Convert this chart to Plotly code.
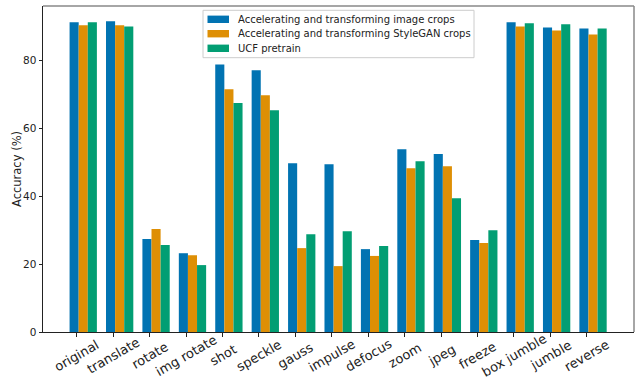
import plotly.graph_objects as go

categories = ["original", "translate", "rotate", "img rotate", "shot", "speckle", "gauss",
              "impulse", "defocus", "zoom", "jpeg", "freeze", "box jumble", "jumble", "reverse"]
image_crops = [91.2, 91.5, 27.4, 23.2, 78.8, 77.1, 49.7, 49.4, 24.4, 53.8, 52.4, 27.1, 91.2, 89.7, 89.4]
stylegan_crops = [90.3, 90.3, 30.3, 22.6, 71.5, 69.7, 24.7, 19.4, 22.4, 48.2, 48.8, 26.2, 90.0, 88.8, 87.6]
ucf_pretrain = [91.2, 90.0, 25.6, 19.7, 67.4, 65.3, 28.8, 29.7, 25.3, 50.3, 39.4, 30.0, 90.9, 90.6, 89.4]
series_names = ["Accelerating and transforming image crops",
                "Accelerating and transforming StyleGAN crops",
                "UCF pretrain"]
colors = ["#0173b2", "#de8f05", "#029e73"]
offsets = [-0.2, 0.05, 0.3]

W, H = 638, 379
L, R, T, B = 43, 4, 6, 47
PW, PH = W - L - R, H - T - B


def fx(px):
    return (px - L) / PW


def fy(py):
    return (H - B - py) / PH


idx = list(range(len(categories)))
fig = go.Figure()
for name, vals, col, off in zip(series_names, [image_crops, stylegan_crops, ucf_pretrain], colors, offsets):
    fig.add_trace(go.Bar(x=idx, y=vals, name=name, marker=dict(color=col, line=dict(width=0)),
                         width=0.25, offset=off, showlegend=False))

font = "DejaVu Sans"
for i, c in enumerate(categories):
    fig.add_annotation(x=i, y=0, xref="x", yref="paper", text=c, showarrow=False,
                       textangle=-30, yshift=-23, xanchor="center", yanchor="middle",
                       font=dict(family=font, size=13, color="#222"))

# y axis title
fig.add_annotation(x=fx(17), y=0.5, xref="paper", yref="paper", text="Accuracy (%)",
                   showarrow=False, textangle=-90, xanchor="center", yanchor="middle",
                   font=dict(family=font, size=11.5, color="#222"))

# legend drawn manually (matplotlib style)
fig.add_shape(type="rect", xref="paper", yref="paper", x0=fx(203), x1=fx(474), y0=fy(57.7), y1=fy(10.3),
              line=dict(color="#cccccc", width=1), fillcolor="rgba(255,255,255,0.8)", layer="above")
item_y = [19.3, 33.7, 48.3]
for name, col, yc in zip(series_names, colors, item_y):
    fig.add_shape(type="rect", xref="paper", yref="paper", x0=fx(207.5), x1=fx(229),
                  y0=fy(yc + 3.7), y1=fy(yc - 3.7), line=dict(width=0), fillcolor=col, layer="above")
    fig.add_annotation(x=fx(236), y=fy(yc), xref="paper", yref="paper", text=name, showarrow=False,
                       xanchor="left", yanchor="middle",
                       font=dict(family=font, size=10, color="#222"))

fig.update_layout(
    width=W, height=H, barmode="overlay",
    margin=dict(l=L, r=R, t=T, b=B),
    paper_bgcolor="white", plot_bgcolor="white",
    font=dict(family=font, size=10, color="#222"),
    showlegend=False,
    xaxis=dict(range=[-0.93, 15.3], tickvals=idx, ticktext=[""] * len(idx),
               ticks="outside", ticklen=3.5, tickcolor="#222", showgrid=False,
               zeroline=False, showline=True, linecolor="#222", linewidth=1),
    yaxis=dict(range=[0, 96], tickvals=[0, 20, 40, 60, 80], ticks="outside", ticklen=3.5,
               tickcolor="#222", showgrid=False, zeroline=False, showline=True,
               linecolor="#222", linewidth=1,
               tickfont=dict(family=font, size=10.5)),
)
fig.add_shape(type="line", xref="paper", yref="paper", x0=0, x1=1, y0=1, y1=1,
              line=dict(color="#888888", width=1.5))
fig.add_shape(type="line", xref="paper", yref="paper", x0=1, x1=1, y0=0, y1=1,
              line=dict(color="#888888", width=1.5))

fig.write_html("out.html")
